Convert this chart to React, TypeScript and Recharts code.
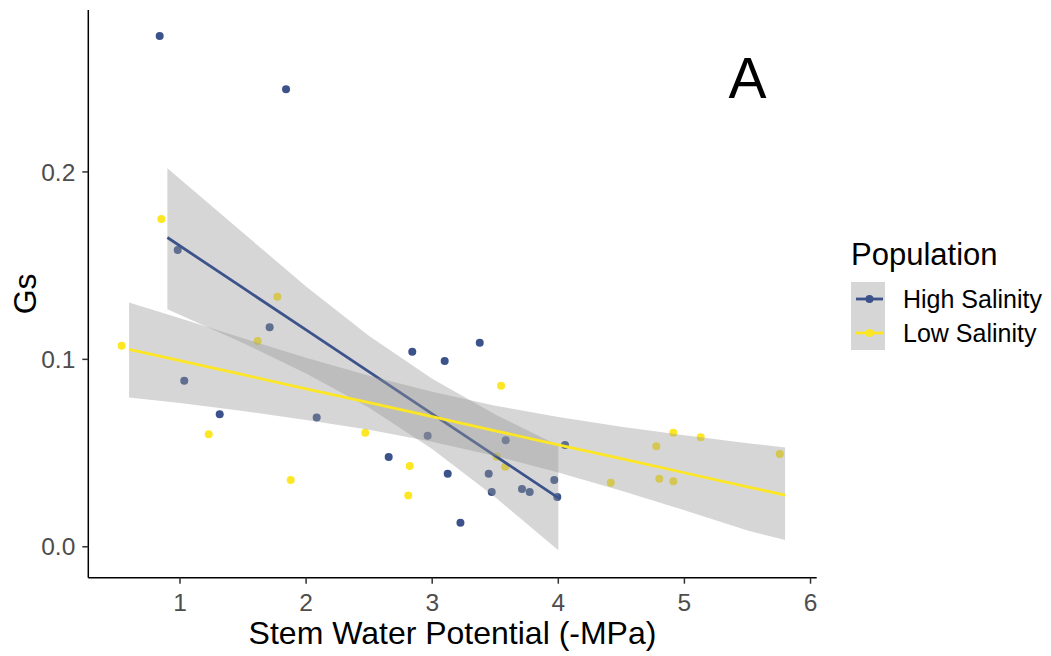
import React from "react";
import {
  Area,
  ComposedChart,
  Line,
  ReferenceDot,
  Scatter,
  XAxis,
  YAxis,
} from "recharts";

// measured points (x = stem water potential, y = Gs)
const highX = [
  0.839, 1.841, 0.982, 1.711, 1.034, 1.315, 2.084, 2.842, 3.099, 2.655, 2.964,
  3.123, 3.224, 3.377, 3.583, 3.448, 3.472, 3.712, 3.773, 3.968, 3.992, 4.053,
];
const highGs = [
  0.2725, 0.2441, 0.1583, 0.1171, 0.0886, 0.0707, 0.069, 0.1041, 0.0991,
  0.0479, 0.0592, 0.039, 0.0128, 0.1089, 0.0568, 0.039, 0.0292, 0.0308,
  0.0292, 0.0356, 0.0265, 0.0543,
];

const lowX = [
  0.852, 1.772, 1.616, 0.538, 1.228, 1.878, 2.469, 2.822, 2.81, 3.546, 3.511,
  3.58, 4.416, 4.777, 4.912, 5.129, 4.801, 4.912, 5.756,
];
const lowGs = [
  0.1749, 0.1334, 0.1098, 0.1073, 0.0601, 0.0356, 0.0608, 0.0431, 0.0274,
  0.0859, 0.048, 0.0427, 0.0342, 0.0536, 0.0608, 0.0585, 0.0363, 0.0349,
  0.0495,
];

// fitted lines and their confidence bands
const highFitX = [0.9, 1.5, 2, 2.5, 3, 3.5, 4];
const highFit = [0.165, 0.1381, 0.1157, 0.0933, 0.0709, 0.0485, 0.0261];
const highLower = [0.1267, 0.1087, 0.0925, 0.0742, 0.0522, 0.0264, -0.0019];
const highUpper = [0.2019, 0.1675, 0.1389, 0.1124, 0.0896, 0.0706, 0.0541];

const lowFitX = [0.596, 1, 1.5, 2, 2.5, 3, 3.5, 4, 4.5, 5, 5.5, 5.798];
const lowFit = [
  0.1053, 0.0993, 0.0918, 0.0843, 0.0769, 0.0694, 0.0619, 0.0544, 0.047,
  0.0395, 0.032, 0.0276,
];
const lowLower = [
  0.0797, 0.0767, 0.0724, 0.0677, 0.0625, 0.0561, 0.0485, 0.0396, 0.0299,
  0.0195, 0.0087, 0.0036,
];
const lowUpper = [
  0.1304, 0.1219, 0.1112, 0.1009, 0.0913, 0.0827, 0.0753, 0.0692, 0.0641,
  0.0595, 0.0553, 0.053,
];

const xTicks = [1, 2, 3, 4, 5, 6];
const yTicks = [0, 0.1, 0.2];

const populations = ["High Salinity", "Low Salinity"];
const colors = ["#3B528B", "#FDE725"];

const toPoints = (xs: number[], ys: number[]) =>
  xs.map((x, i) => ({ x, y: ys[i] }));

const toBand = (xs: number[], fit: number[], lo: number[], hi: number[]) =>
  xs.map((x, i) => ({ x, fit: fit[i], band: [lo[i], hi[i]] }));

const highPts = toPoints(highX, highGs);
const lowPts = toPoints(lowX, lowGs);
const highBand = toBand(highFitX, highFit, highLower, highUpper);
const lowBand = toBand(lowFitX, lowFit, lowLower, lowUpper);

const dot = (color: string) => (props: any) =>
  <circle cx={props.cx} cy={props.cy} r={4} fill={color} />;

const YTitle = (props: any) => {
  const { viewBox } = props;
  const cx = viewBox.x - 14;
  const cy = viewBox.y + viewBox.height / 2;
  return (
    <text
      x={cx}
      y={cy}
      dy="0.355em"
      textAnchor="middle"
      fontSize={32}
      fill="#000"
      transform={`rotate(-90, ${cx}, ${cy})`}
    >
      Gs
    </text>
  );
};

const ribbon = { stroke: "none", fill: "#999999", fillOpacity: 0.4 };

const App = () => {
  return (
    <div
      style={{
        position: "absolute",
        left: 0,
        top: 0,
        width: 1051,
        height: 656,
        background: "#fff",
        fontFamily: "'Liberation Sans', Arial, sans-serif",
      }}
    >
      <ComposedChart
        width={1051}
        height={656}
        margin={{ top: 10, right: 234.3, bottom: 18.3, left: 38.3 }}
      >
        <XAxis
          type="number"
          dataKey="x"
          domain={[0.273, 6.049]}
          ticks={xTicks}
          allowDataOverflow
          height={60}
          tickSize={6}
          tickMargin={10}
          axisLine={{ stroke: "#000", strokeWidth: 1.5 }}
          tickLine={{ stroke: "#333", strokeWidth: 1.5 }}
          tick={{ fill: "#4D4D4D", fontSize: 24.5 }}
          label={{
            value: "Stem Water Potential (-MPa)",
            position: "insideBottom",
            offset: -6,
            fill: "#000",
            fontSize: 32,
          }}
        />
        <YAxis
          type="number"
          dataKey="y"
          domain={[-0.0165, 0.2864]}
          ticks={yTicks}
          allowDataOverflow
          width={50}
          tickSize={6}
          tickMargin={7}
          tickFormatter={(v: number) => v.toFixed(1)}
          axisLine={{ stroke: "#000", strokeWidth: 1.5 }}
          tickLine={{ stroke: "#333", strokeWidth: 1.5 }}
          tick={{ fill: "#4D4D4D", fontSize: 24.5 }}
          label={{ content: YTitle }}
        />
        <Scatter
          data={highPts}
          shape={dot(colors[0])}
          isAnimationActive={false}
          zIndex={50}
        />
        <Scatter
          data={lowPts}
          shape={dot(colors[1])}
          isAnimationActive={false}
          zIndex={50}
        />
        <Area
          data={highBand}
          dataKey="band"
          type="linear"
          {...ribbon}
          isAnimationActive={false}
          zIndex={100}
        />
        <Line
          data={highBand}
          dataKey="fit"
          type="linear"
          stroke={colors[0]}
          strokeWidth={2.8}
          dot={false}
          isAnimationActive={false}
          zIndex={150}
        />
        <Area
          data={lowBand}
          dataKey="band"
          type="linear"
          {...ribbon}
          isAnimationActive={false}
          zIndex={200}
        />
        <Line
          data={lowBand}
          dataKey="fit"
          type="linear"
          stroke={colors[1]}
          strokeWidth={2.8}
          dot={false}
          isAnimationActive={false}
          zIndex={250}
        />
        <ReferenceDot
          x={5.5}
          y={0.25}
          r={1}
          fill="none"
          stroke="none"
          label={{ value: "A", position: "center", fontSize: 57, fill: "#000" }}
        />
      </ComposedChart>
      <svg
        width={211}
        height={135}
        style={{ position: "absolute", left: 840, top: 225 }}
      >
        <text x={11} y={40} fontSize={31} fill="#000">
          Population
        </text>
        <rect x={11} y={57} width={34} height={68} fill="#D6D6D6" />
        {populations.map((name, i) => (
          <g key={name}>
            <line
              x1={16}
              x2={43}
              y1={74 + 34 * i}
              y2={74 + 34 * i}
              stroke={colors[i]}
              strokeWidth={2.8}
            />
            <circle cx={29.5} cy={74 + 34 * i} r={4} fill={colors[i]} />
            <text x={63} y={83 + 34 * i} fontSize={25} fill="#000">
              {name}
            </text>
          </g>
        ))}
      </svg>
    </div>
  );
};

export default App;
